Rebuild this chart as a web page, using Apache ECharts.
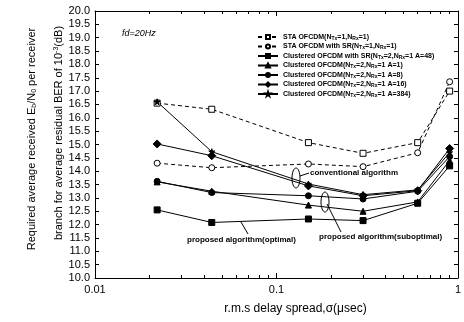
<!DOCTYPE html>
<html><head><meta charset="utf-8">
<script src="https://cdn.jsdelivr.net/npm/echarts@6/dist/echarts.min.js"></script>
<style>html,body{margin:0;padding:0;background:#fff}#c{width:464px;height:322px}</style>
</head><body><div id="c"></div>
<script>
const delaySpread = [0.022, 0.044, 0.15, 0.3, 0.6, 0.9];
const staOfcdm   = [16.55, 16.32, 15.07, 14.67, 15.07, 17.0];
const staSR      = [14.3, 14.13, 14.27, 14.17, 14.69, 17.35];
const clusterSR48 = [12.55, 12.08, 12.21, 12.15, 12.8, 14.2];
const clusterA1  = [13.6, 13.25, 12.73, 12.5, 12.85, 14.4];
const clusterA8  = [13.62, 13.2, 13.08, 12.96, 13.25, 14.55];
const clusterA16 = [15.02, 14.58, 13.45, 13.08, 13.27, 14.85];
const clusterA384 = [16.6, 14.73, 13.52, 13.12, 13.3, 14.7];
const seriesNames = [
  'STA OFCDM(NTx=1,NRx=1)',
  'STA OFCDM with SR(NTx=1,NRx=1)',
  'Clustered OFCDM with SR(NTx=2,NRx=1 A=48)',
  'Clustered OFCDM(NTx=2,NRx=1 A=1)',
  'Clustered OFCDM(NTx=2,NRx=1 A=8)',
  'Clustered OFCDM(NTx=2,NRx=1 A=16)',
  'Clustered OFCDM(NTx=2,NRx=1 A=384)'
];
const yTicks = {min: 10, max: 20, interval: 0.5};

const STAR = 'path://M50,0 L61,35 L98,35 L68,57 L79,91 L50,70 L21,91 L32,57 L2,35 L39,35 Z';
const styles = [
  {symbol: 'rect', fill: '#fff', dash: [4, 3]},
  {symbol: 'circle', fill: '#fff', dash: [4, 3]},
  {symbol: 'rect', fill: '#000', dash: 'solid'},
  {symbol: 'triangle', fill: '#000', dash: 'solid'},
  {symbol: 'circle', fill: '#000', dash: 'solid'},
  {symbol: 'diamond', fill: '#000', dash: 'solid'},
  {symbol: STAR, fill: '#000', dash: 'solid'}
];
const values = [staOfcdm, staSR, clusterSR48, clusterA1, clusterA8, clusterA16, clusterA384];

const FONT = 'Liberation Sans, Arial, sans-serif';
const series = values.map((v, i) => ({
  name: seriesNames[i],
  type: 'line',
  data: delaySpread.map((x, j) => [x, v[j]]),
  symbol: styles[i].symbol,
  symbolSize: styles[i].symbol === 'diamond' ? 8 : 6,
  showSymbol: true,
  itemStyle: {color: styles[i].fill, borderColor: '#000', borderWidth: 1},
  lineStyle: {color: '#000', width: 1, type: styles[i].dash},
  emphasis: {disabled: true},
  animation: false,
  z: 3
}));

function legendLabel(name) {
  return name.replace(/NTx/g, 'N{sub|Tx}').replace(/NRx/g, 'N{sub|Rx}');
}

const chart = echarts.init(document.getElementById('c'));
chart.setOption({
  animation: false,
  backgroundColor: '#fff',
  grid: {left: 95, right: 2, top: 11, bottom: 44},
  legend: {
    orient: 'vertical', left: 252, top: 28, itemWidth: 20, itemHeight: 5, itemGap: 1.5,
    data: seriesNames,
    formatter: legendLabel,
    textStyle: {fontSize: 7, lineHeight: 8, fontWeight: 'bold', fontFamily: FONT, color: '#000',
      rich: {sub: {fontSize: 5, lineHeight: 8, fontWeight: 'bold', fontFamily: FONT, verticalAlign: 'bottom', padding: [3, 0, 0, 0]}}}
  },
  xAxis: [{
    type: 'log', min: 0.01, max: 1, logBase: 10,
    axisLine: {lineStyle: {color: '#000', width: 1}},
    axisTick: {inside: true, length: 5, lineStyle: {color: '#000'}},
    minorTick: {show: true, splitNumber: 9, length: 3, lineStyle: {color: '#000'}},
    axisLabel: {fontSize: 11, color: '#000', fontFamily: FONT, margin: 6, formatter: v => String(v)},
    splitLine: {show: false},
    name: 'r.m.s delay spread,σ(μsec)', nameLocation: 'middle', nameGap: 25,
    nameTextStyle: {fontSize: 12, color: '#000', fontFamily: FONT, padding: [0, 0, 0, 38]}
  }, {
    type: 'log', min: 0.01, max: 1, logBase: 10, position: 'top',
    axisLine: {lineStyle: {color: '#000', width: 1}},
    axisTick: {inside: true, length: 5, lineStyle: {color: '#000'}},
    minorTick: {show: true, splitNumber: 9, length: 3, lineStyle: {color: '#000'}},
    axisLabel: {show: false}, splitLine: {show: false}
  }],
  yAxis: [{
    type: 'value', min: yTicks.min, max: yTicks.max, interval: yTicks.interval,
    axisLine: {show: true, lineStyle: {color: '#000', width: 1}},
    axisTick: {inside: true, length: 4, lineStyle: {color: '#000'}},
    axisLabel: {fontSize: 11, color: '#000', fontFamily: FONT, margin: 5, formatter: v => v.toFixed(1)},
    splitLine: {show: false}
  }, {
    type: 'value', min: yTicks.min, max: yTicks.max, interval: yTicks.interval, position: 'right',
    axisLine: {show: true, lineStyle: {color: '#000', width: 1}},
    axisTick: {inside: true, length: 4, lineStyle: {color: '#000'}},
    axisLabel: {show: false}, splitLine: {show: false}
  }],
  series: series,
  graphic: [
    {type: 'text', x: 32, y: 139, rotation: Math.PI / 2,
      style: {text: 'Required average received E{sub|b}/N{sub|0} per receiver', align: 'center', verticalAlign: 'middle',
        font: '11px ' + FONT, fill: '#000',
        rich: {sub: {fontSize: 7, fontFamily: FONT, verticalAlign: 'bottom', padding: [5, 0, 0, 0]}}}},
    {type: 'text', x: 59, y: 133, rotation: Math.PI / 2,
      style: {text: 'branch for average residual BER of 10{sup|-3}(dB)', align: 'center', verticalAlign: 'middle',
        font: '11px ' + FONT, fill: '#000',
        rich: {sup: {fontSize: 7, fontFamily: FONT, verticalAlign: 'top', padding: [0, 0, 6, 0]}}}},
    {type: 'text', x: 122, y: 33,
      style: {text: 'fd=20Hz', verticalAlign: 'middle', font: 'italic 9px ' + FONT, fill: '#000'}},
    {type: 'text', x: 310, y: 173,
      style: {text: 'conventional algorithm', verticalAlign: 'middle', font: 'bold 8px ' + FONT, fill: '#000'}},
    {type: 'ellipse', shape: {cx: 296, cy: 178, rx: 4, ry: 10}, style: {fill: 'none', stroke: '#000', lineWidth: 1}},
    {type: 'line', shape: {x1: 300, y1: 176, x2: 309, y2: 173}, style: {stroke: '#000', lineWidth: 1}},
    {type: 'text', x: 319, y: 237,
      style: {text: 'proposed algorithm(suboptimal)', verticalAlign: 'middle', font: 'bold 8px ' + FONT, fill: '#000'}},
    {type: 'ellipse', shape: {cx: 325, cy: 202, rx: 4, ry: 10}, style: {fill: 'none', stroke: '#000', lineWidth: 1}},
    {type: 'line', shape: {x1: 327, y1: 204, x2: 341, y2: 232}, style: {stroke: '#000', lineWidth: 1}},
    {type: 'text', x: 187, y: 240,
      style: {text: 'proposed algorithm(optimal)', verticalAlign: 'middle', font: 'bold 8px ' + FONT, fill: '#000'}},
    {type: 'line', shape: {x1: 241, y1: 222, x2: 248, y2: 234}, style: {stroke: '#000', lineWidth: 1}}
  ]
});
</script></body></html>
